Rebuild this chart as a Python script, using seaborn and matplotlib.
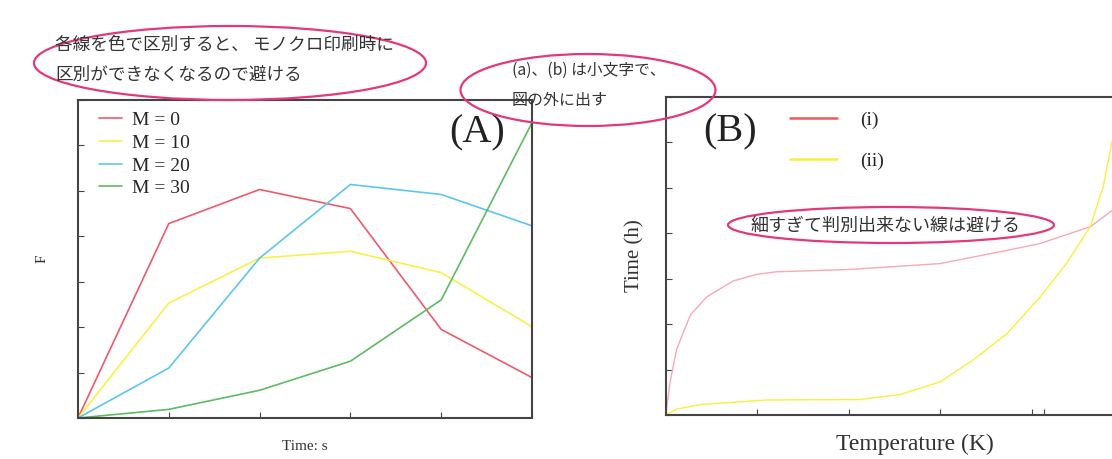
import matplotlib
matplotlib.use("Agg")
import matplotlib.pyplot as plt
from matplotlib.patches import Ellipse
import pandas as pd
import seaborn as sns

# Données du panneau (A)
temps_a = [0, 1, 2, 3, 4, 5]
labels_a = ["M = 0", "M = 10", "M = 20", "M = 30"]
f_m0 = [0, 4.28, 5.03, 4.61, 1.95, 0.89]
f_m10 = [0, 2.53, 3.52, 3.67, 3.20, 2.01]
f_m20 = [0, 1.10, 3.52, 5.14, 4.92, 4.23]
f_m30 = [0, 0.19, 0.61, 1.25, 2.60, 6.50]

# Données du panneau (B)
labels_b = ["(i)", "(ii)"]
temp_i = [0, 0.05, 0.12, 0.27, 0.45, 0.74, 0.99, 1.21, 2.01, 3.00, 3.73, 4.09, 4.64, 4.88]
time_i = [0, 0.75, 1.45, 2.20, 2.60, 2.95, 3.09, 3.15, 3.20, 3.33, 3.62, 3.77, 4.14, 4.50]
temp_ii = [0, 0.12, 0.38, 1.10, 2.12, 2.56, 3.00, 3.36, 3.73, 4.09, 4.38, 4.64, 4.78, 4.88]
time_ii = [0, 0.13, 0.23, 0.33, 0.34, 0.45, 0.73, 1.21, 1.79, 2.59, 3.33, 4.14, 5.01, 6.03]

# Notes en japonais
note_1 = ["各線を色で区別すると、 モノクロ印刷時に", "区別ができなくなるので避ける"]
note_2 = ["(a)、(b) は小文字で、", "図の外に出す"]
note_3 = "細すぎて判別出来ない線は避ける"

sns.set_style("ticks")
plt.rcParams["font.family"] = ["Liberation Serif", "Noto Sans CJK JP"]
plt.rcParams["xtick.direction"] = "in"
plt.rcParams["ytick.direction"] = "in"

W, H = 1112, 459
fig = plt.figure(figsize=(W / 100, H / 100), dpi=100)


def px(x0, y0, x1, y1):
    # rectangle en pixels (haut-gauche origine) -> fraction de figure
    return [x0 / W, 1 - y1 / H, (x1 - x0) / W, (y1 - y0) / H]


axe_color = "#444444"
txt_color = "#333333"

# ---- Panneau (A)
ax_a = fig.add_axes(px(78, 100, 532, 418))
donnees_a = pd.DataFrame({"t": temps_a * 4,
                          "F": f_m0 + f_m10 + f_m20 + f_m30,
                          "M": sum([[m] * len(temps_a) for m in labels_a], [])})
couleurs_a = ["#ef5a6a", "#fbef4a", "#5cc6f0", "#5dbb63"]
sns.lineplot(data=donnees_a, x="t", y="F", hue="M", palette=couleurs_a,
             linewidth=1.2, ax=ax_a)
ax_a.set_xlim(0, 5)
ax_a.set_ylim(0, 7)
ax_a.set_xticks(range(6))
ax_a.set_yticks(range(8))
ax_a.set_xticklabels([])
ax_a.set_yticklabels([])
ax_a.tick_params(length=4, color=axe_color)
ax_a.set_xlabel("Time: s", fontsize=11, color=txt_color, labelpad=12)
ax_a.set_ylabel("F", fontsize=11, color=txt_color, labelpad=18)
ax_a.legend(loc="upper left", bbox_to_anchor=(0.03, 0.988), borderaxespad=0,
            frameon=False, fontsize=14, handlelength=1.15,
            labelspacing=0.26, handletextpad=0.55)
ax_a.text(0.94, 0.895, "(A)", transform=ax_a.transAxes, ha="right", va="center",
          fontsize=29, color="#222222")

# ---- Panneau (B), coupé à droite comme dans l'original
ax_b = fig.add_axes(px(665.7, 96.7, 1164, 415))
donnees_b = pd.DataFrame({"T": temp_i + temp_ii,
                          "h": time_i + time_ii,
                          "s": [labels_b[0]] * len(temp_i) + [labels_b[1]] * len(temp_ii)})
sns.lineplot(data=donnees_b, x="T", y="h", hue="s", palette=["#f6a9b6", "#fbef3a"],
             linewidth=1.0, ax=ax_b, legend=False, sort=False)
ax_b.set_xlim(0, (1164 - 665.7) / 91.5)
ax_b.set_ylim(0, 7)
ax_b.set_xticks([0, 1, 2, 3, 4, 4.13, 5])
ax_b.set_yticks(range(8))
ax_b.set_xticklabels([])
ax_b.set_yticklabels([])
ax_b.tick_params(length=4, color=axe_color)
ax_b.set_xlabel("Temperature (K)", fontsize=17, color=txt_color, labelpad=10)
ax_b.set_ylabel("Time (h)", fontsize=15, color=txt_color, labelpad=12)
hb = [plt.Line2D([], [], color="#ef5a5a", lw=1.8), plt.Line2D([], [], color="#fbef3a", lw=1.8)]
ax_b.legend(hb, labels_b, loc="upper left", bbox_to_anchor=(0.215, 1.01), frameon=False,
            fontsize=14, handlelength=2.4, labelspacing=1.2, handletextpad=1.2)
ax_b.text(0.075, 0.89, "(B)", transform=ax_b.transAxes, ha="left", va="center",
          fontsize=29, color="#222222")

for ax in (ax_a, ax_b):
    for sp in ax.spines.values():
        sp.set_color(axe_color)
        sp.set_linewidth(1.5)

# ---- Annotations (ellipses roses + texte)
rose = "#e3397a"


def ellipse(cx, cy, w, h):
    fig.patches.append(Ellipse((cx / W, 1 - cy / H), w / W, h / H, fill=False,
                               edgecolor=rose, linewidth=1.6,
                               transform=fig.transFigure, zorder=10))


def note(x, y, s, size=12.5):
    fig.text(x / W, 1 - y / H, s, fontsize=size, color=txt_color, va="center",
             family=["Noto Sans CJK JP", "DejaVu Sans"], zorder=11)


ellipse(230, 63, 392, 74)
note(55, 45, note_1[0], 12.7)
note(55, 75, note_1[1], 12.7)

ellipse(588, 90, 255, 72)
note(512, 70, note_2[0], 11.3)
note(512, 100, note_2[1], 11.5)

ellipse(891, 225, 326, 36)
note(750, 226, note_3, 13.0)

fig.savefig("out.png", dpi=100)
